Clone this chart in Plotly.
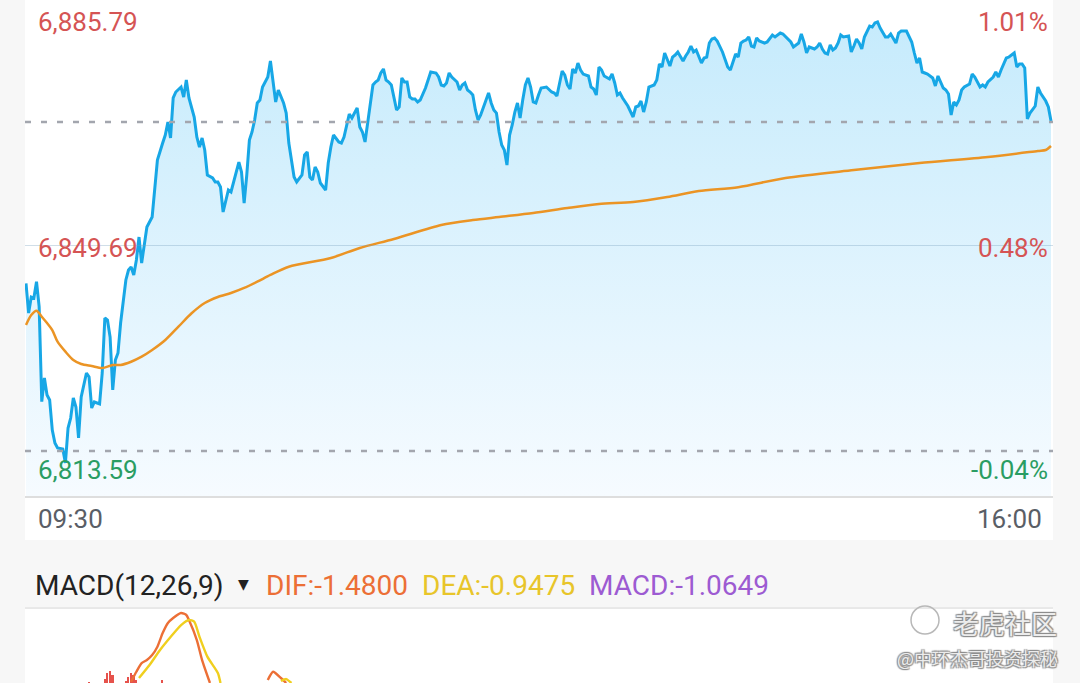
import plotly.graph_objects as go

# ---- intraday price (minutes after 09:30) ----
price_minutes = [
    0, 1, 2, 3, 4, 5, 6, 7, 8, 9, 10, 11, 12, 14, 15, 16, 17, 18, 19, 20, 21, 23, 24, 25, 26, 27, 28, 29,
    30, 31, 32, 33, 34, 35, 36, 38, 39, 40, 41, 42, 43, 44, 45, 46, 48, 49, 50, 52, 53, 54, 55, 56, 57, 59,
    60, 61, 62, 64, 65, 66, 67, 68, 69, 71, 72, 73, 74, 75, 76, 77, 78, 80, 81, 82, 83, 84, 85, 86, 87, 88,
    89, 90, 92, 93, 94, 95, 96, 98, 99, 100, 102, 103, 105, 106, 107, 108, 109, 110, 111, 112, 114, 115,
    116, 117, 119, 120, 121, 122, 123, 124, 125, 126, 127, 128, 129, 130, 131, 132, 133, 134, 135, 136,
    137, 138, 139, 140, 141, 142, 143, 144, 145, 146, 147, 148, 149, 150, 152, 153, 154, 156, 157, 158,
    159, 160, 161, 162, 163, 164, 165, 166, 167, 168, 169, 170, 171, 172, 173, 174, 176, 177, 178, 179,
    180, 181, 182, 183, 184, 185, 186, 187, 188, 189, 190, 191, 192, 193, 194, 195, 196, 198, 199, 200,
    201, 202, 204, 205, 206, 207, 208, 209, 210, 211, 212, 214, 215, 216, 217, 218, 219, 220, 222, 223,
    224, 225, 226, 227, 229, 230, 231, 232, 233, 234, 235, 236, 237, 239, 240, 241, 242, 243, 244, 245,
    246, 247, 248, 249, 250, 251, 252, 253, 254, 255, 257, 258, 259, 260, 261, 262, 263, 265, 266, 267,
    268, 269, 270, 271, 272, 273, 274, 275, 276, 277, 278, 279, 281, 282, 284, 285, 286, 287, 288, 290,
    291, 292, 294, 295, 296, 297, 298, 300, 301, 302, 303, 304, 305, 306, 307, 308, 309, 310, 311, 313,
    314, 315, 316, 317, 318, 319, 320, 321, 322, 323, 324, 325, 327, 328, 329, 330, 331, 332, 333, 335,
    336, 337, 338, 339, 340, 341, 342, 343, 345, 346, 347, 348, 349, 350, 351, 352, 353, 354, 355, 356,
    357, 359, 360, 361, 363, 364, 365, 366, 368, 369, 370, 371, 372, 373, 374, 376, 377, 378, 379, 380,
    381, 382, 384, 385, 386, 387, 388, 389, 390,
]
price_values = [
    6844.24, 6839.96, 6842.27, 6842.12, 6844.47, 6840.87, 6827.18, 6830.60, 6828.15, 6827.43, 6823.10,
    6821.23, 6820.51, 6820.36, 6818.35, 6823.39, 6824.83, 6827.71, 6826.42, 6821.95, 6827.86, 6831.32,
    6830.74, 6826.27, 6827.14, 6826.99, 6826.85, 6831.32, 6839.24, 6838.95, 6836.50, 6828.87, 6833.19,
    6834.20, 6838.52, 6844.72, 6846.16, 6846.59, 6845.44, 6847.60, 6850.91, 6847.17, 6850.05, 6852.36,
    6853.80, 6858.12, 6862.01, 6864.46, 6865.61, 6867.49, 6865.18, 6870.95, 6871.81, 6872.53, 6871.09,
    6873.54, 6870.95, 6868.21, 6865.33, 6863.88, 6865.18, 6863.45, 6859.85, 6859.42, 6858.84, 6858.84,
    6858.12, 6854.52, 6856.25, 6857.69, 6857.40, 6860.14, 6861.72, 6860.28, 6855.81, 6859.85, 6864.89,
    6866.05, 6867.78, 6870.23, 6870.66, 6872.53, 6873.97, 6876.28, 6873.11, 6870.37, 6872.10, 6870.23,
    6868.78, 6864.46, 6859.56, 6858.84, 6859.85, 6862.73, 6863.16, 6859.56, 6859.13, 6861.00, 6860.28,
    6858.70, 6857.69, 6861.58, 6863.88, 6865.61, 6864.61, 6864.46, 6865.33, 6867.06, 6868.64, 6868.06,
    6868.78, 6869.51, 6866.77, 6866.05, 6864.61, 6867.49, 6870.66, 6872.82, 6873.25, 6873.54, 6874.55,
    6875.13, 6873.54, 6873.25, 6872.82, 6870.95, 6869.22, 6869.65, 6873.83, 6873.25, 6873.25, 6871.09,
    6870.80, 6870.80, 6870.37, 6870.66, 6872.39, 6873.54, 6874.69, 6874.55, 6873.97, 6872.82, 6872.68,
    6873.11, 6874.55, 6873.97, 6873.54, 6873.25, 6872.10, 6872.82, 6873.11, 6872.10, 6871.81, 6871.38,
    6869.22, 6867.78, 6868.50, 6869.65, 6871.67, 6870.23, 6869.22, 6868.78, 6866.05, 6864.17, 6863.45,
    6861.29, 6865.61, 6867.06, 6868.93, 6870.23, 6868.06, 6870.66, 6872.82, 6873.83, 6872.53, 6870.37,
    6870.23, 6871.38, 6872.39, 6872.53, 6872.10, 6871.81, 6871.67, 6871.23, 6874.84, 6874.26, 6872.82,
    6872.24, 6875.13, 6874.55, 6875.99, 6874.98, 6874.40, 6874.12, 6872.53, 6872.24, 6871.38, 6875.41,
    6874.98, 6874.12, 6873.68, 6874.40, 6873.11, 6871.38, 6871.67, 6870.95, 6869.79, 6868.93, 6868.21,
    6869.65, 6869.79, 6870.51, 6868.93, 6870.37, 6872.53, 6872.82, 6873.54, 6875.85, 6875.41, 6877.43,
    6876.57, 6875.56, 6876.85, 6877.14, 6877.58, 6876.85, 6876.28, 6877.00, 6877.58, 6878.44, 6877.58,
    6877.86, 6875.99, 6876.71, 6876.85, 6878.87, 6879.45, 6879.59, 6879.16, 6877.58, 6876.57, 6875.41,
    6874.98, 6875.99, 6877.29, 6876.85, 6878.87, 6879.16, 6879.30, 6879.74, 6878.44, 6878.30, 6879.59,
    6879.16, 6878.87, 6879.02, 6880.02, 6879.74, 6880.02, 6880.31, 6880.17, 6879.45, 6879.02, 6878.30,
    6878.87, 6880.17, 6879.02, 6877.43, 6878.30, 6878.01, 6878.30, 6878.87, 6878.01, 6877.43, 6877.29,
    6878.58, 6877.86, 6878.15, 6878.87, 6880.02, 6879.74, 6879.88, 6877.58, 6878.44, 6879.45, 6878.87,
    6878.01, 6879.74, 6880.46, 6881.32, 6881.18, 6881.75, 6881.90, 6881.03, 6879.74, 6879.74, 6880.17,
    6879.59, 6878.87, 6880.31, 6880.60, 6880.60, 6879.74, 6879.02, 6877.43, 6875.99, 6876.71, 6874.69,
    6874.55, 6874.40, 6873.83, 6872.68, 6874.12, 6873.11, 6872.39, 6872.10, 6871.52, 6868.50, 6870.37,
    6869.94, 6870.66, 6872.10, 6872.53, 6872.96, 6874.40, 6873.97, 6872.53, 6872.82, 6872.53, 6873.25,
    6873.97, 6874.69, 6873.97, 6874.98, 6875.99, 6876.71, 6876.85, 6877.43, 6875.41, 6875.85, 6875.85,
    6875.27, 6867.92, 6868.78, 6869.79, 6872.53, 6871.67, 6871.09, 6870.51, 6869.65, 6867.63,
]

# ---- average price line ----
avg_minutes = [0, 2, 4, 6, 8, 10, 12, 15, 18, 21, 25, 29, 33, 36, 40, 44, 48, 53, 58, 63, 68, 73, 78,
               83, 88, 93, 100, 116, 127, 140, 158, 170, 180, 193, 206, 218, 231, 244, 256, 271, 289,
               315, 340, 366, 385, 388, 390]
avg_values = [6838.23, 6839.67, 6840.29, 6839.43, 6838.52, 6837.51, 6835.83, 6834.39, 6833.19, 6832.61,
              6832.32, 6832.04, 6832.47, 6832.47, 6832.94, 6833.67, 6834.63, 6836.07, 6837.99, 6839.92,
              6841.40, 6842.27, 6842.84, 6843.57, 6844.47, 6845.44, 6846.63, 6847.89, 6849.33, 6850.63,
              6852.64, 6853.36, 6853.80, 6854.37, 6855.09, 6855.67, 6855.96, 6856.68, 6857.54, 6858.10,
              6859.42, 6860.57, 6861.58, 6862.44, 6863.31, 6863.45, 6864.03]

# ---- MACD panel (only the top of it is on screen) ----
dif_minutes = [40, 42, 44, 46, 48, 50, 52, 54, 56, 59, 61, 62, 65, 67, 70, 80, 92, 94, 97, 99]
dif_values = [2.24, 3.00, 3.66, 3.89, 4.27, 4.91, 5.95, 6.72, 7.10, 7.48, 7.33, 6.95, 5.42, 3.89, 2.14,
              None, 2.37, 3.00, 2.52, 2.14]
dea_minutes = [43, 47, 51, 55, 59, 62, 64, 66, 69, 73, 74, 85, 97, 99, 101]
dea_values = [2.52, 3.51, 4.66, 5.65, 6.56, 6.95, 6.82, 5.67, 4.15, 2.90, 2.14, None, 2.29, 2.44, 2.14]
hist_minutes = [24, 30, 31, 32, 33, 38, 39, 40, 41, 42, 52]
hist_values = [2.24, 2.45, 2.90, 3.08, 2.75, 2.30, 2.62, 2.90, 2.75, 2.37, 2.37]

# ---- labels ----
price_labels = ["6,885.79", "6,849.69", "6,813.59"]
pct_labels = ["1.01%", "0.48%", "-0.04%"]
label_colors = ["#d55454", "#d55454", "#2a9d63"]
time_labels = ["09:30", "16:00"]
y_low, y_mid, y_top = 6813.59, 6849.69, 6885.07
ref_levels = [6867.49, 6820.08]
macd_header = [("MACD(12,26,9)", "#222222"), ("DIF:-1.4800", "#ec6f36"),
               ("DEA:-0.9475", "#e8c52a"), ("MACD:-1.0649", "#9d5bd2")]

W, H = 1080, 683
PL, PR = 25, 1053
FONT = "Roboto"


def px_x(px):
    return (px - PL) / (PR - PL)


def px_y(py):
    return 1 - py / H


fig = go.Figure()

fig.add_trace(go.Scatter(
    x=price_minutes, y=price_values, mode="lines",
    line=dict(color="#17a7e6", width=3),
    fill="tozeroy",
    fillgradient=dict(type="vertical", start=y_low, stop=6882,
                      colorscale=[[0, "rgb(246,251,255)"], [1, "rgb(198,235,252)"]]),
    hoverinfo="skip", xaxis="x", yaxis="y",
))
fig.add_trace(go.Scatter(
    x=avg_minutes, y=avg_values, mode="lines",
    line=dict(color="#eb9424", width=2.5, shape="spline", smoothing=0.8),
    hoverinfo="skip", xaxis="x", yaxis="y",
))

fig.add_trace(go.Bar(
    x=hist_minutes, y=hist_values, width=0.6, marker=dict(color="#e6524c", line=dict(width=0)),
    xaxis="x2", yaxis="y2",
))
fig.add_trace(go.Scatter(
    x=dif_minutes, y=dif_values, mode="lines", connectgaps=False,
    line=dict(color="#ec6f36", width=2.4, shape="spline", smoothing=0.6),
    xaxis="x2", yaxis="y2",
))
fig.add_trace(go.Scatter(
    x=dea_minutes, y=dea_values, mode="lines", connectgaps=False,
    line=dict(color="#f0cf1e", width=2.4, shape="spline", smoothing=0.6),
    xaxis="x2", yaxis="y2",
))

shapes = [
    # white band holding the time labels
    dict(type="rect", xref="paper", yref="paper", x0=0, x1=1, y0=px_y(540), y1=px_y(496),
         fillcolor="white", line_width=0, layer="below"),
    # separator under the MACD header
    dict(type="line", xref="paper", yref="paper", x0=0, x1=1, y0=px_y(608), y1=px_y(608),
         line=dict(color="#dadada", width=1)),
    # middle grid line
    dict(type="line", xref="paper", yref="y", x0=0, x1=1, y0=y_mid, y1=y_mid,
         line=dict(color="rgba(120,160,190,0.35)", width=1)),
]
for lv in ref_levels:
    shapes.append(dict(type="line", xref="paper", yref="y", x0=0, x1=1, y0=lv, y1=lv,
                       line=dict(color="#a3a6ae", width=2.4, dash="6px,10px")))
# watermark circle
shapes.append(dict(type="circle", xref="paper", yref="paper",
                   x0=px_x(911), x1=px_x(939), y0=px_y(634), y1=px_y(606),
                   line=dict(color="#b8b8b8", width=1.5)))

annotations = []
label_pos = [0.9556, 0.5, 0.0524]
for txt, pct, col, yp in zip(price_labels, pct_labels, label_colors, label_pos):
    annotations.append(dict(text=txt, xref="paper", yref="y domain", x=px_x(36), y=yp,
                            xanchor="left", yanchor="middle", showarrow=False,
                            font=dict(family=FONT, size=26, color=col)))
    annotations.append(dict(text=pct, xref="paper", yref="y domain", x=px_x(1050), y=yp,
                            xanchor="right", yanchor="middle", showarrow=False,
                            font=dict(family=FONT, size=26, color=col)))

annotations.append(dict(text=time_labels[0], xref="paper", yref="paper", x=px_x(36), y=px_y(519),
                        xanchor="left", yanchor="middle", showarrow=False,
                        font=dict(family=FONT, size=26, color="#5a5e66")))
annotations.append(dict(text=time_labels[1], xref="paper", yref="paper", x=px_x(1044), y=px_y(519),
                        xanchor="right", yanchor="middle", showarrow=False,
                        font=dict(family=FONT, size=26, color="#5a5e66")))

header_x = [33, 264, 420, 587]
for (txt, col), hx in zip(macd_header, header_x):
    annotations.append(dict(text=txt, xref="paper", yref="paper", x=px_x(hx), y=px_y(585),
                            xanchor="left", yanchor="middle", showarrow=False,
                            font=dict(family=FONT, size=28, color=col)))
annotations.append(dict(text="▼", xref="paper", yref="paper", x=px_x(243), y=px_y(584),
                        xanchor="center", yanchor="middle", showarrow=False,
                        font=dict(family="DejaVu Sans", size=14, color="#222222")))

outline = "1px 1px 1px #8c8c8c, -1px -1px 1px #8c8c8c, 1px -1px 1px #8c8c8c, -1px 1px 1px #8c8c8c"
annotations.append(dict(text="老虎社区", xref="paper", yref="paper", x=px_x(1005), y=px_y(622),
                        xanchor="center", yanchor="middle", showarrow=False,
                        font=dict(family="Noto Sans CJK SC", size=26, color="#ececec", shadow=outline)))
annotations.append(dict(text="@中环杰哥投资探秘", xref="paper", yref="paper", x=px_x(1060), y=px_y(658),
                        xanchor="right", yanchor="middle", showarrow=False,
                        font=dict(family="Noto Sans CJK SC", size=18, color="#ececec", shadow=outline)))

x_range = [-0.38, 390.76]
fig.update_layout(
    width=W, height=H,
    margin=dict(l=PL, r=W - PR, t=0, b=0),
    paper_bgcolor="#f7f7f7",
    plot_bgcolor="white",
    showlegend=False,
    bargap=0,
    xaxis=dict(domain=[0, 1], range=x_range, anchor="y", showgrid=False, zeroline=False,
               showticklabels=False, ticks="", showline=True, linecolor="#dedede", linewidth=1.5),
    yaxis=dict(domain=[px_y(496), 1], range=[y_low, y_top], showgrid=False, zeroline=False,
               showticklabels=False, ticks=""),
    xaxis2=dict(domain=[0, 1], range=x_range, anchor="y2", visible=False),
    yaxis2=dict(domain=[0, px_y(609)], range=[2.14, 7.79], anchor="x2", visible=False),
    shapes=shapes,
    annotations=annotations,
)

fig.write_html("out.html", config={"displayModeBar": False},
               post_script="document.body.style.margin = '0';")
